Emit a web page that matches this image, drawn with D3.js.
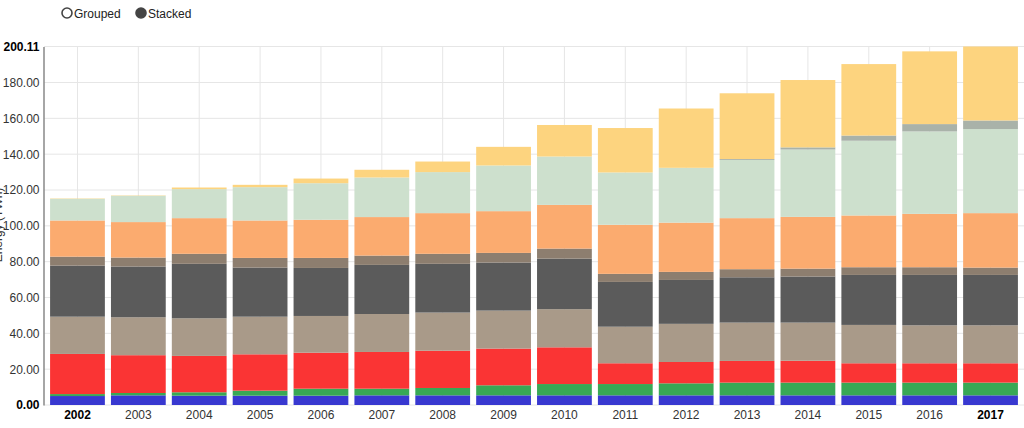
<!DOCTYPE html>
<html><head><meta charset="utf-8">
<script src="https://cdn.jsdelivr.net/npm/d3@7"></script>
<style>
body{margin:0;background:#fff;}
svg{display:block;font-family:"Liberation Sans",Arial,sans-serif;}
</style></head><body>
<svg id="c" width="1024" height="428"></svg>
<script>
const years = ["2002","2003","2004","2005","2006","2007","2008","2009","2010","2011","2012","2013","2014","2015","2016","2017"];
const blue      = [5.0,5.4,5.2,5.2,5.2,5.4,5.4,5.4,5.4,5.4,5.4,5.4,5.4,5.4,5.4,5.4];
const green     = [1.1,1.3,1.9,2.8,3.9,3.7,4.1,5.6,6.3,6.3,6.7,7.1,7.1,7.1,7.1,7.1];
const red       = [22.4,21.1,20.3,20.3,20.1,20.5,20.8,20.5,20.5,11.6,11.9,12.1,12.2,10.8,10.8,10.8];
const tan       = [20.8,21.2,21.0,21.0,20.5,21.2,21.3,21.2,21.3,20.4,21.3,21.4,21.3,21.4,21.2,21.2];
const darkGray  = [28.5,28.3,30.4,27.4,26.8,27.4,27.2,26.8,28.2,25.0,24.5,25.3,25.7,27.9,28.1,28.1];
const brown     = [5.0,5.0,5.6,5.4,5.6,5.2,5.6,5.4,5.6,4.5,4.5,4.5,4.4,4.3,4.3,4.1];
const orange    = [20.2,19.8,19.9,20.9,21.3,21.5,22.7,23.3,24.4,27.4,27.5,28.5,28.9,28.9,29.8,30.4];
const paleGreen = [12.1,14.7,16.2,18.6,20.4,22.1,22.9,25.5,27.0,29.2,30.6,32.5,37.6,41.7,46.0,46.9];
const grayGreen = [0,0,0,0,0,0,0,0,0,0,0,0.5,1.2,2.9,4.1,4.8];
const yellow    = [0.2,0.2,0.9,1.3,2.6,4.3,5.9,10.4,17.6,24.8,33.1,36.7,37.6,39.9,40.6,41.31];
const yTicks    = [0,20,40,60,80,100,120,140,160,180];
const legendLabels = ["Grouped","Stacked"];
const yLabel = "Energy (TWh)";

const seriesList = [blue,green,red,tan,darkGray,brown,orange,paleGreen,grayGreen,yellow];
const colors = ["#3838d0","#38a855","#fa3434","#a99a89","#5b5b5b","#8d7e6f","#fbab6f","#cde0cd","#a9b2a9","#fdd47f"];

const rows = years.map((y,i)=>{const r={year:y}; seriesList.forEach((s,k)=>r["s"+k]=s[i]); return r;});
const keys = seriesList.map((s,k)=>"s"+k);
const stacked = d3.stack().keys(keys)(rows);
const totals = rows.map(r=>keys.reduce((a,k)=>a+r[k],0));
const maxV = +d3.max(totals).toFixed(2);

const svg = d3.select("#c");
const x = d3.scaleBand().domain(years).range([44,1024]).paddingInner(0.1).paddingOuter(0.1);
const y = d3.scaleLinear().domain([0,maxV]).range([405,46.5]);

// grid
const g = svg.append("g");
g.selectAll("line.h").data(yTicks.concat([maxV])).join("line")
 .attr("x1",44).attr("x2",1024).attr("y1",d=>y(d)).attr("y2",d=>y(d))
 .attr("stroke","#e6e6e6").attr("stroke-width",1);
g.selectAll("line.v").data(years).join("line")
 .attr("x1",d=>x(d)+x.bandwidth()/2).attr("x2",d=>x(d)+x.bandwidth()/2)
 .attr("y1",46.5).attr("y2",405).attr("stroke","#e6e6e6").attr("stroke-width",1);

// bars
svg.append("g").selectAll("g").data(stacked).join("g")
 .attr("fill",(d,i)=>colors[i])
 .selectAll("rect").data(d=>d).join("rect")
 .attr("x",d=>x(d.data.year)).attr("width",x.bandwidth())
 .attr("y",d=>y(d[1])).attr("height",d=>Math.max(0,y(d[0])-y(d[1])));

// y axis
const yAxis = d3.axisLeft(y).tickValues(yTicks.concat([maxV])).tickFormat(d3.format(".2f")).tickSize(0).tickPadding(4);
const ya = svg.append("g").attr("transform","translate(43.5,0)").call(yAxis);
ya.select(".domain").attr("stroke","#888").attr("stroke-width",1.5);
ya.selectAll("text").attr("font-size",12).attr("fill","#333")
  .attr("font-family","Liberation Sans, Arial, sans-serif")
  .attr("font-weight",d=>(d===0||d===maxV)?"bold":"normal").attr("fill",d=>(d===0||d===maxV)?"#000":"#333");

// x axis
const xAxis = d3.axisBottom(x).tickSize(0).tickPadding(5);
const xa = svg.append("g").attr("transform","translate(0,405)").call(xAxis);
xa.select(".domain").remove();
xa.selectAll("text").attr("font-size",12).attr("font-family","Liberation Sans, Arial, sans-serif")
  .attr("fill",d=>(d===years[0]||d===years[years.length-1])?"#000":"#333")
  .attr("font-weight",d=>(d===years[0]||d===years[years.length-1])?"bold":"normal");

// y label (mostly clipped)
svg.append("text").attr("transform","translate(2,225) rotate(-90)")
 .attr("text-anchor","middle").attr("font-size",12).attr("fill","#333").text(yLabel);

// legend controls
const leg = svg.append("g");
const lx = [67,141];
legendLabels.forEach((t,i)=>{
  leg.append("circle").attr("cx",lx[i]).attr("cy",13).attr("r",5)
    .attr("fill",i===1?"#444":"#fff").attr("stroke","#444").attr("stroke-width",1.6);
  leg.append("text").attr("x",lx[i]+7).attr("y",17.5).attr("font-size",12).attr("fill","#222").text(t);
});
</script></body></html>
